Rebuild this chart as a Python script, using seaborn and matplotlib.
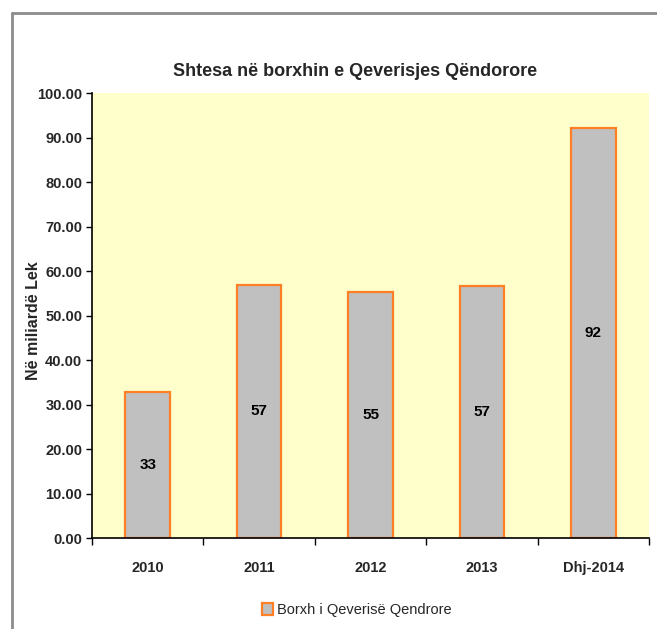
import matplotlib
matplotlib.use("Agg")
import matplotlib.pyplot as plt
import seaborn as sns
import pandas as pd
from matplotlib.lines import Line2D
from matplotlib.ticker import FormatStrFormatter, FixedLocator

# data
periods = ["2010", "2011", "2012", "2013", "Dhj-2014"]
debt_added = [32.9, 57.0, 55.4, 56.6, 92.1]
bar_labels = ["33", "57", "55", "57", "92"]
series_name = "Borxh i Qeverisë Qendrore"

df = pd.DataFrame({"Periudha": periods, "Vlera": debt_added})

sns.set_style("white")
plt.rcParams["font.family"] = ["Liberation Sans", "DejaVu Sans"]

fig = plt.figure(figsize=(6.57, 6.29), dpi=100)
ax = fig.add_axes([92 / 657, 1 - 538.3 / 629, 557 / 657, 445 / 629])
ax.set_facecolor("#FFFFCC")

sns.barplot(data=df, x="Periudha", y="Vlera", width=0.4, color="#C0C0C0",
            edgecolor="#FF7F27", linewidth=1.6, saturation=1, ax=ax,
            label=series_name)

# value labels in the middle of each bar
for i, lab in enumerate(bar_labels):
    ax.text(i, debt_added[i] / 2, lab, ha="center", va="center",
            fontsize=11, fontweight="bold", color="black")

ax.set_xlim(-0.5, 4.5)
ax.set_ylim(0, 100)
ax.set_yticks(range(0, 101, 10))
ax.yaxis.set_major_formatter(FormatStrFormatter("%.2f"))
ax.xaxis.set_minor_locator(FixedLocator([-0.5, 0.5, 1.5, 2.5, 3.5, 4.5]))
ax.tick_params(axis="x", which="major", length=0, pad=16, labelsize=10.5)
ax.tick_params(axis="x", which="minor", length=5, width=1, color="black", bottom=True)
ax.tick_params(axis="y", length=4, width=1, color="black", labelsize=10.5, left=True, pad=3)
for t in ax.get_xticklabels() + ax.get_yticklabels():
    t.set_fontweight("bold")

ax.set_xlabel("")
ax.set_ylabel("Në miliardë Lek", fontsize=11.5, fontweight="bold")
ax.yaxis.set_label_coords((41 - 92) / 557, 0.49)

for side in ["top", "right"]:
    ax.spines[side].set_visible(False)
for side in ["left", "bottom"]:
    ax.spines[side].set_color("black")
    ax.spines[side].set_linewidth(1.2)

fig.text(355 / 657, 1 - 72 / 629, "Shtesa në borxhin e Qeverisjes Qëndorore",
         ha="center", va="center", fontsize=13, fontweight="bold")

handles, labels = ax.get_legend_handles_labels()
fig.legend(handles, labels, loc="center", bbox_to_anchor=(357 / 657, 1 - 610 / 629),
           frameon=False, fontsize=10.5, handlelength=0.7, handleheight=0.8,
           handletextpad=0.3)
if ax.get_legend() is not None:
    ax.get_legend().remove()

# outer chart border
fig.add_artist(Line2D([12 / 657, 12 / 657], [0, 1 - 13 / 629], color="#8C8C8C", lw=2))
fig.add_artist(Line2D([12 / 657, 1], [1 - 13 / 629, 1 - 13 / 629], color="#8C8C8C", lw=2))

fig.savefig("out.png", dpi=100)
